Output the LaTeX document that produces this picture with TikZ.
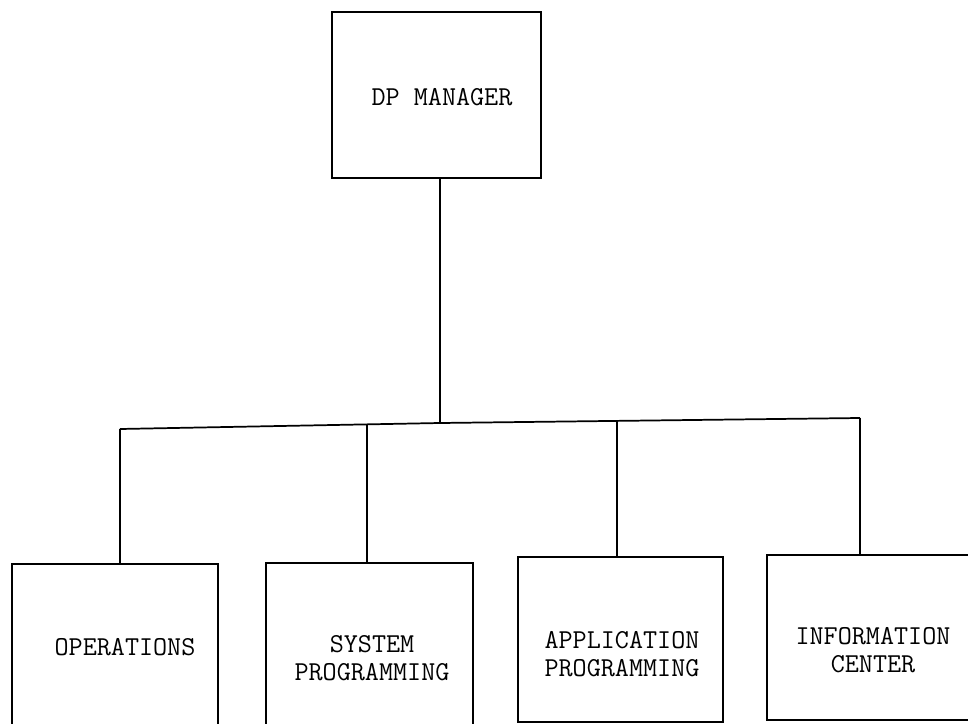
\documentclass[tikz,border=0pt]{standalone}
\begin{document}
\begin{tikzpicture}[x=0.75pt,y=-0.75pt,
  orgbox/.style={draw, line width=1.4pt, inner sep=0pt},
  lbl/.style={font=\ttfamily\fontsize{20.5}{21}\selectfont, align=center, inner sep=0pt},
  wire/.style={line width=1.3pt}]
\useasboundingbox (0,0) rectangle (968,724);
\clip (0,0) rectangle (968,724);
% boxes
\node[orgbox, minimum width=209*0.75pt, minimum height=166*0.75pt] (dp) at (436.5,95) {};
\node[orgbox, minimum width=206*0.75pt, minimum height=164*0.75pt] (ops) at (115,646) {};
\node[orgbox, minimum width=207*0.75pt, minimum height=163*0.75pt] (sys) at (369.5,644.5) {};
\node[orgbox, minimum width=205*0.75pt, minimum height=165*0.75pt] (app) at (620.5,639.5) {};
\node[orgbox, minimum width=205*0.75pt, minimum height=165*0.75pt] (info) at (869.5,637.5) {};
% labels
\node[lbl] (tdp) at (442,97) {DP MANAGER};
\node[lbl] (tops) at (125,647) {OPERATIONS};
\node[lbl] (tsys) at (372,658) {SYSTEM\\PROGRAMMING};
\node[lbl] (tapp) at (622,654) {APPLICATION\\PROGRAMMING};
\node[lbl] (tinfo) at (873,650) {INFORMATION\\CENTER};
% bus
\coordinate (b1) at (120,429);
\coordinate (bm) at (440,423);
\coordinate (b2) at (367,425);
\coordinate (b3) at (617,421);
\coordinate (b4) at (860,418);
\draw[wire] (dp.south -| bm) -- (bm);
\draw[wire] (b1) -- (bm) -- (b4);
\draw[wire] (b1) -- (b1 |- ops.north);
\draw[wire] (b2) -- (b2 |- sys.north);
\draw[wire] (b3) -- (b3 |- app.north);
\draw[wire] (b4) -- (b4 |- info.north);
\end{tikzpicture}
\end{document}
